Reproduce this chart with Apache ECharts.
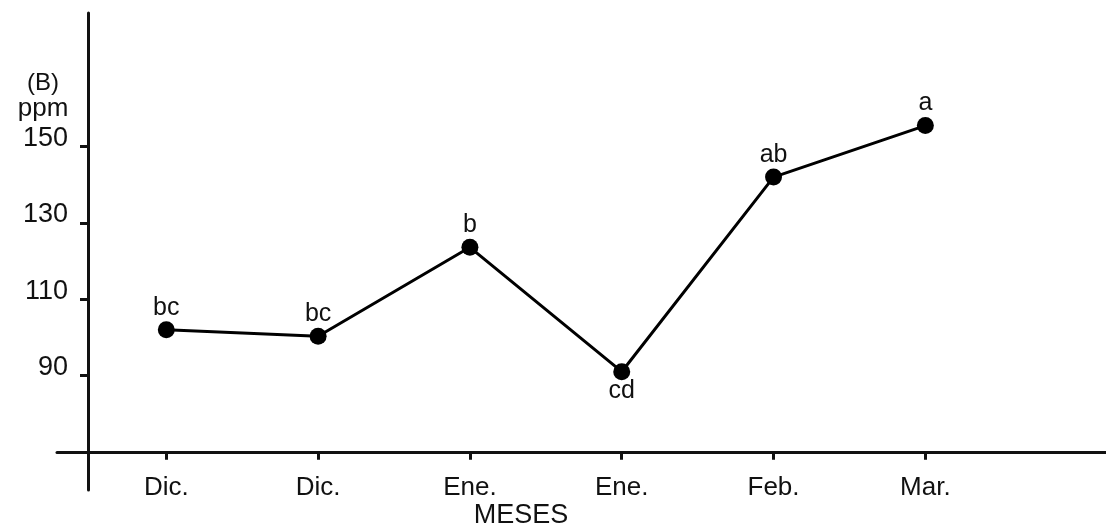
<!DOCTYPE html>
<html>
<head>
<meta charset="utf-8">
<script src="https://cdn.jsdelivr.net/npm/echarts@6/dist/echarts.min.js"></script>
<style>
html,body{margin:0;padding:0;background:#fff;}
#c{width:1106px;height:527px;}
</style>
</head>
<body>
<div id="c"></div>
<script>
var categories = ['Dic.', 'Dic.', 'Ene.', 'Ene.', 'Feb.', 'Mar.'];
var values = [102, 100.3, 123.6, 91, 142, 155.5];
var letters = ['bc', 'bc', 'b', 'cd', 'ab', 'a'];
var yTicks = [90, 110, 130, 150];
var xTicks = [0, 1, 2, 3, 4, 5];

var FONT = 'Liberation Sans';
var points = values.map(function (v, i) {
  return {
    value: [i, v],
    label: {
      formatter: letters[i],
      position: letters[i] === 'cd' ? 'bottom' : 'top',
      distance: letters[i] === 'cd' ? -2 : 1
    }
  };
});

var chart = echarts.init(document.getElementById('c'), null, {renderer: 'canvas'});
chart.setOption({
  animation: false,
  backgroundColor: '#fff',
  title: [
    {text: '{b|(B)}\n{p|ppm}', left: 38, top: 66, textAlign: 'center',
     textStyle: {fontWeight: 'normal', rich: {
       b: {fontFamily: FONT, fontSize: 24, fontWeight: 'normal', color: '#111', lineHeight: 25},
       p: {fontFamily: FONT, fontSize: 26, fontWeight: 'normal', color: '#111', lineHeight: 25}
     }}},
    {text: 'MESES', left: 516, top: 497, textAlign: 'center',
     textStyle: {fontFamily: FONT, fontSize: 27, fontWeight: 'normal', color: '#111'}}
  ],
  grid: {left: 57, right: 0, top: 13, height: 477, containLabel: false},
  xAxis: {
    type: 'value', min: -0.72, max: 6.19,
    position: 'bottom', offset: -37.3,
    splitLine: {show: false},
    axisLine: {onZero: false, lineStyle: {color: '#111', width: 3}},
    axisTick: {show: true, customValues: xTicks, length: 7, inside: false, lineStyle: {color: '#111', width: 3}},
    axisLabel: {customValues: xTicks, margin: 22, color: '#111', fontFamily: FONT, fontSize: 26,
      formatter: function (v) { return categories[Math.round(v)]; }}
  },
  yAxis: {
    type: 'value', min: 60, max: 185,
    position: 'left', offset: -31,
    splitLine: {show: false},
    axisLine: {onZero: false, lineStyle: {color: '#111', width: 3}},
    axisTick: {show: true, customValues: yTicks, length: 8, lineStyle: {color: '#111', width: 3}},
    axisLabel: {customValues: yTicks, margin: 20, color: '#111',
      formatter: function (v) { return '{t|' + v + '}'; },
      rich: {t: {fontFamily: FONT, fontSize: 27, color: '#111', padding: [0, 0, 16, 0]}}}
  },
  series: [{
    type: 'line',
    data: points,
    symbol: 'circle',
    symbolSize: 17,
    itemStyle: {color: '#000'},
    lineStyle: {color: '#000', width: 3},
    label: {show: true, color: '#111', fontFamily: FONT, fontSize: 25}
  }]
});
</script>
</body>
</html>
